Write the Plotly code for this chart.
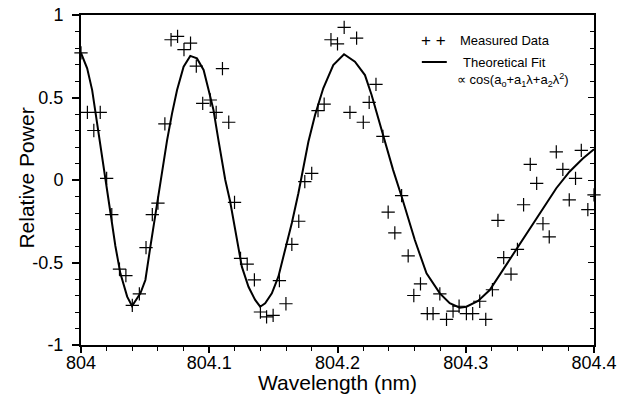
import plotly.graph_objects as go

# Measured data (wavelength in nm, relative power)
meas_wl = [804.000, 804.005, 804.010, 804.015, 804.020, 804.024, 804.030, 804.035, 804.040, 804.0455,
           804.0507, 804.0556, 804.060, 804.0654, 804.0702, 804.0753, 804.0803, 804.0854, 804.0899, 804.0949,
           804.1008, 804.1054, 804.1103, 804.1152, 804.1197, 804.1244, 804.1296, 804.1352, 804.1399, 804.1447,
           804.1498, 804.1547, 804.1598, 804.1644, 804.1698, 804.1745, 804.1799, 804.1848, 804.1896, 804.1949,
           804.2000, 804.2052, 804.2097, 804.2149, 804.2201, 804.2247, 804.2300, 804.2354, 804.2395, 804.2447,
           804.2500, 804.2551, 804.2595, 804.2647, 804.2700, 804.2745, 804.2798, 804.2850, 804.2901, 804.2948,
           804.3005, 804.3054, 804.3109, 804.3156, 804.3208, 804.3251, 804.3296, 804.3353, 804.3403, 804.3451,
           804.3503, 804.3553, 804.3602, 804.3651, 804.3706, 804.3757, 804.3807, 804.3856, 804.3901, 804.3952,
           804.4000]
meas_pw = [0.77, 0.41, 0.30, 0.41, 0.01, -0.21, -0.54, -0.58, -0.76, -0.69,
           -0.41, -0.21, -0.14, 0.34, 0.85, 0.87, 0.79, 0.83, 0.69, 0.465,
           0.485, 0.41, 0.675, 0.35, -0.135, -0.475, -0.51, -0.605, -0.80, -0.83,
           -0.82, -0.61, -0.75, -0.39, -0.25, -0.01, 0.04, 0.42, 0.46, 0.85,
           0.825, 0.925, 0.41, 0.86, 0.35, 0.47, 0.58, 0.265, -0.195, -0.32,
           -0.095, -0.46, -0.70, -0.63, -0.81, -0.81, -0.69, -0.845, -0.795, -0.765,
           -0.81, -0.81, -0.735, -0.845, -0.665, -0.245, -0.47, -0.57, -0.42, -0.15,
           0.095, -0.02, -0.265, -0.345, 0.17, 0.065, -0.12, 0.01, 0.18, -0.18,
           -0.09]

# Theoretical fit curve
fit_wl = [804.0000, 804.0048, 804.0087, 804.0113, 804.0152, 804.0191, 804.0230, 804.0268, 804.0307, 804.0360,
          804.0398, 804.0463, 804.0502, 804.0541, 804.0580, 804.0619, 804.0671, 804.0710, 804.0749, 804.0800,
          804.0852, 804.0904, 804.0956, 804.0995, 804.1033, 804.1072, 804.1125, 804.1163, 804.1202, 804.1254,
          804.1306, 804.1358, 804.1397, 804.1436, 804.1488, 804.1539, 804.1591, 804.1644, 804.1695, 804.1730,
          804.1773, 804.1825, 804.1889, 804.1967, 804.2051, 804.2136, 804.2214, 804.2266, 804.2317, 804.2370,
          804.2434, 804.2500, 804.2603, 804.2694, 804.2798, 804.2875, 804.2953, 804.3005, 804.3096, 804.3187,
          804.3290, 804.3395, 804.3498, 804.3602, 804.3706, 804.3809, 804.3913, 804.4000]
fit_pw = [0.77, 0.677, 0.545, 0.404, 0.20, 0.0, -0.20, -0.40, -0.566, -0.707,
          -0.764, -0.687, -0.606, -0.404, -0.202, 0.0, 0.24, 0.404, 0.545, 0.687,
          0.752, 0.737, 0.667, 0.545, 0.424, 0.24, 0.0, -0.13, -0.30, -0.525,
          -0.647, -0.727, -0.768, -0.747, -0.687, -0.586, -0.424, -0.26, -0.08, 0.07,
          0.232, 0.394, 0.556, 0.697, 0.762, 0.717, 0.636, 0.515, 0.374, 0.232,
          0.06, -0.10, -0.364, -0.566, -0.687, -0.747, -0.774, -0.768, -0.733, -0.667,
          -0.545, -0.424, -0.303, -0.18, -0.05, 0.05, 0.13, 0.186]

x_ticks = [804, 804.1, 804.2, 804.3, 804.4]
x_tick_labels = ["804", "804.1", "804.2", "804.3", "804.4"]
y_ticks = [-1, -0.5, 0, 0.5, 1]
y_tick_labels = ["-1", "-0.5", "0", "0.5", "1"]

FONT = "Liberation Sans, Arial, sans-serif"
W, H = 630, 400
L, R, T, B = 80.5, 35.5, 15, 55
PW, PH = W - L - R, H - T - B


def px(x):
    return (x - L) / PW


def py(y):
    return (H - B - y) / PH


fig = go.Figure()
fig.add_trace(go.Scatter(
    x=fit_wl, y=fit_pw, mode="lines",
    line=dict(color="black", width=2),
    showlegend=False, hoverinfo="skip"))
fig.add_trace(go.Scatter(
    x=meas_wl, y=meas_pw, mode="markers",
    marker=dict(symbol="cross-thin", size=9.5, line=dict(color="black", width=1.2)),
    showlegend=False, cliponaxis=False))
# empty trace to activate the right-hand tick axis
fig.add_trace(go.Scatter(x=[], y=[], yaxis="y2", showlegend=False))

fig.update_layout(
    width=W, height=H,
    margin=dict(l=L, r=R, t=T, b=B),
    paper_bgcolor="white", plot_bgcolor="white",
    font=dict(family=FONT, color="black", size=18),
    xaxis=dict(
        range=[804, 804.4], tickvals=x_ticks, ticktext=x_tick_labels,
        showgrid=False, zeroline=False, automargin=False,
        showline=True, linecolor="black", linewidth=2, mirror=True,
        ticks="outside", ticklen=6, tickwidth=1.5, tickcolor="black",
        minor=dict(dtick=0.02, ticks="outside", ticklen=4, tickwidth=1, tickcolor="black"),
        tickfont=dict(size=18), ticklabelstandoff=-6,
    ),
    yaxis=dict(
        range=[-1, 1], tickvals=y_ticks, ticktext=y_tick_labels,
        showgrid=False, zeroline=False, automargin=False,
        showline=True, linecolor="black", linewidth=2, mirror=True,
        ticks="outside", ticklen=7, tickwidth=1.5, tickcolor="black",
        minor=dict(dtick=0.1, ticks="outside", ticklen=4, tickwidth=1, tickcolor="black"),
        tickfont=dict(size=18), ticklabelstandoff=5,
    ),
    yaxis2=dict(
        range=[-1, 1], overlaying="y", side="right", anchor="x", automargin=False,
        showgrid=False, zeroline=False, showline=False, showticklabels=False,
        ticks="inside", tickvals=y_ticks, ticklen=6, tickwidth=1.2, tickcolor="black",
        minor=dict(dtick=0.1, ticks="inside", ticklen=4, tickwidth=1, tickcolor="black"),
    ),
)

# Axis titles
fig.add_annotation(xref="paper", yref="paper", x=px(337.5), y=py(382),
                   text="Wavelength (nm)", showarrow=False, xanchor="center", yanchor="middle",
                   font=dict(size=21, family=FONT))
fig.add_annotation(xref="paper", yref="paper", x=px(25), y=py(178),
                   text="Relative Power", showarrow=False, xanchor="center", yanchor="middle",
                   textangle=-90, font=dict(size=21, family=FONT))

# Legend drawn as annotations / shapes
fig.add_annotation(xref="paper", yref="paper", x=px(434), y=py(40),
                   text="+ +", showarrow=False, xanchor="center", yanchor="middle",
                   font=dict(size=17, family=FONT))
fig.add_annotation(xref="paper", yref="paper", x=px(458), y=py(40),
                   text="Measured Data", showarrow=False, xanchor="left", yanchor="middle",
                   font=dict(size=13, family=FONT))
fig.add_shape(type="line", xref="paper", yref="paper",
              x0=px(422), x1=px(447), y0=py(62), y1=py(62),
              line=dict(color="black", width=2))
fig.add_annotation(xref="paper", yref="paper", x=px(461), y=py(62),
                   text="Theoretical Fit", showarrow=False, xanchor="left", yanchor="middle",
                   font=dict(size=13, family=FONT))
fig.add_annotation(xref="paper", yref="paper", x=px(455), y=py(80),
                   text="\u221d cos(a<sub>o</sub>+a<sub>1</sub>\u03bb+a<sub>2</sub>\u03bb<sup>2</sup>)",
                   showarrow=False, xanchor="left", yanchor="middle",
                   font=dict(size=13, family=FONT))

fig.write_html("out.html", config={"displayModeBar": False},
               post_script="document.body.style.margin='0';document.body.style.padding='0';")
